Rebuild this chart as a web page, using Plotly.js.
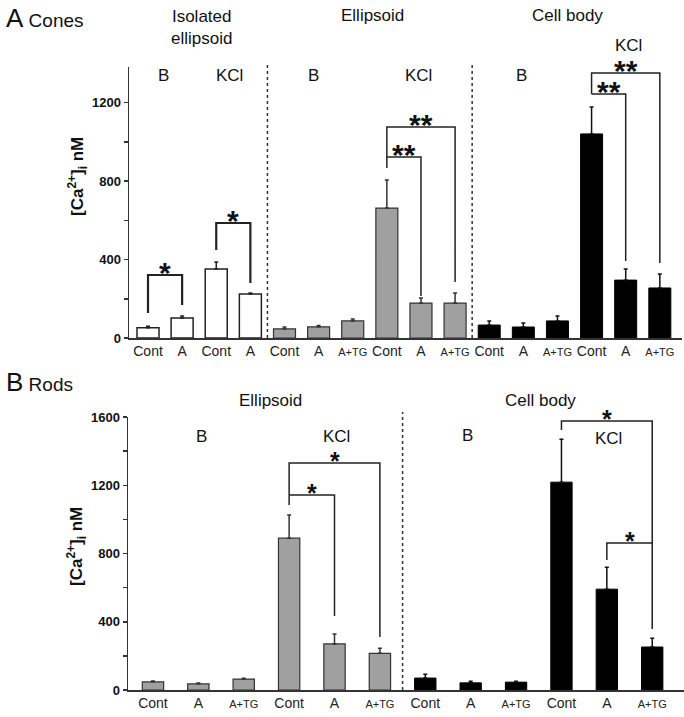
<!DOCTYPE html>
<html>
<head>
<meta charset="utf-8">
<script src="https://cdn.plot.ly/plotly-3.0.1.min.js"></script>
<style>html,body{margin:0;padding:0;background:#fff;}#chart{width:684px;height:717px;}</style>
</head>
<body>
<div id="chart"></div>
<script>
// ---------------- DATA ----------------
// Panel A: Cones
const isoCats      = ['Cont', 'A', 'Cont', 'A'];
const isoVals      = [52, 102, 352, 224];
const isoErr       = [8, 10, 35, 5];

const coneEllCats  = ['Cont', 'A', 'A+TG', 'Cont', 'A', 'A+TG'];
const coneEllVals  = [46, 57, 87, 662, 178, 178];
const coneEllErr   = [10, 7, 10, 143, 26, 51];

const coneCellCats = ['Cont', 'A', 'A+TG', 'Cont', 'A', 'A+TG'];
const coneCellVals = [66, 56, 87, 1040, 295, 255];
const coneCellErr  = [21, 20, 25, 137, 57, 71];

// Panel B: Rods
const rodEllCats   = ['Cont', 'A', 'A+TG', 'Cont', 'A', 'A+TG'];
const rodEllVals   = [48, 36, 64, 890, 270, 215];
const rodEllErr    = [5, 5, 5, 135, 58, 30];

const rodCellCats  = ['Cont', 'A', 'A+TG', 'Cont', 'A', 'A+TG'];
const rodCellVals  = [70, 42, 46, 1218, 591, 252];
const rodCellErr   = [22, 10, 6, 252, 128, 52];

// y tick labels
const yTicksA = [0, 400, 800, 1200];
const yTicksB = [0, 400, 800, 1200, 1600];

// ---------------- HELPERS ----------------
const W = 684, H = 717;
const FONT = 'Arial, "Liberation Sans", Helvetica, sans-serif';
const px = x => x / W;
const py = y => 1 - y / H;
const idx = (n, off) => Array.from({length: n}, (_, i) => i + off);
const zeros = n => Array(n).fill(0);
const tickLabel = c => c === 'A+TG' ? '<span style="font-size:11px">A+TG</span>' : c;

function barTrace(cats, vals, errs, off, fill, lineCol, lineW, width, xa, ya, errCol) {
  return {
    type: 'bar', x: idx(cats.length, off), y: vals, width: width,
    xaxis: xa, yaxis: ya, showlegend: false, hoverinfo: 'skip',
    marker: {color: fill, line: {color: lineCol, width: lineW}},
    error_y: {type: 'data', symmetric: false, array: errs, arrayminus: zeros(errs.length),
              color: errCol, thickness: 1.5, width: 2}
  };
}

const offA1 = 0, offA2 = isoCats.length, offA3 = offA2 + coneEllCats.length;
const offB1 = 0, offB2 = rodEllCats.length;

const traces = [
  barTrace(isoCats, isoVals, isoErr, offA1, '#ffffff', '#222', 1.5, 0.645, 'x', 'y', '#222'),
  barTrace(coneEllCats, coneEllVals, coneEllErr, offA2, '#a0a0a0', '#333', 1.2, 0.645, 'x', 'y', '#333'),
  barTrace(coneCellCats, coneCellVals, coneCellErr, offA3, '#000000', '#000', 1, 0.645, 'x', 'y', '#111'),
  barTrace(rodEllCats, rodEllVals, rodEllErr, offB1, '#a0a0a0', '#333', 1.2, 0.47, 'x2', 'y2', '#333'),
  barTrace(rodCellCats, rodCellVals, rodCellErr, offB2, '#000000', '#000', 1, 0.47, 'x2', 'y2', '#111')
];

const catsA = isoCats.concat(coneEllCats, coneCellCats);
const catsB = rodEllCats.concat(rodCellCats);

// ---------------- SIGNIFICANCE BRACKETS ----------------
const brackets = [
  ['x', 'y', [[0, 127], [0, 321], [1, 321], [1, 168]], 2.2],
  ['x', 'y', [[2, 448], [2, 586], [3, 586], [3, 280]], 2.2],
  ['x', 'y', [[7, 866], [7, 1075], [9, 1075], [9, 285]], 1.5],
  ['x', 'y', [[7, 922], [8, 922], [8, 214]], 1.5],
  ['x', 'y', [[13, 1243], [13, 1350], [15, 1350], [15, 382]], 1.5],
  ['x', 'y', [[13, 1243], [14, 1243], [14, 392]], 1.5],
  ['x2', 'y2', [[3, 1084], [3, 1330], [5, 1330], [5, 311]], 1.5],
  ['x2', 'y2', [[3, 1143], [4, 1143], [4, 434]], 1.5],
  ['x2', 'y2', [[9, 1524], [9, 1577], [11, 1577], [11, 358]], 1.5],
  ['x2', 'y2', [[10, 762], [10, 862], [11, 862]], 1.5]
];
const stars = [
  ['x', 'y', 0.5, 321, '*', 30],
  ['x', 'y', 2.5, 586, '*', 30],
  ['x', 'y', 8, 1075, '**', 30],
  ['x', 'y', 7.5, 922, '**', 30],
  ['x', 'y', 14, 1350, '**', 30],
  ['x', 'y', 13.5, 1243, '**', 30],
  ['x2', 'y2', 4, 1330, '*', 25],
  ['x2', 'y2', 3.5, 1143, '*', 25],
  ['x2', 'y2', 10, 1577, '*', 25],
  ['x2', 'y2', 10.5, 862, '*', 25]
];

const shapes = brackets.map(b => ({
  type: 'path', xref: b[0], yref: b[1],
  path: b[2].map((p, i) => (i ? 'L' : 'M') + p[0] + ',' + p[1]).join(' '),
  line: {color: '#222', width: b[3]}
}));
[[offA2 - 0.5, 'x', 338, 62], [offA3 - 0.5, 'x', 338, 62], [offB2 - 0.5, 'x2', 690, 412]].forEach(d => {
  shapes.push({type: 'line', xref: d[1], yref: 'paper', x0: d[0], x1: d[0], y0: py(d[2]), y1: py(d[3]),
               line: {color: '#333', width: 1.5, dash: '3px,3px'}});
});

const annotations = [];
stars.forEach(s => annotations.push({
  xref: s[0], yref: s[1], x: s[2], y: s[3], text: s[4], showarrow: false,
  xanchor: 'center', yanchor: 'middle', yshift: s[5] > 26 ? 3 : 2,
  font: {family: FONT, size: s[5], color: '#111', weight: 'bold'}
}));
function txt(text, x, y, size, opts) {
  annotations.push(Object.assign({
    xref: 'paper', yref: 'paper', x: px(x), y: py(y), text: text, showarrow: false,
    xanchor: 'center', yanchor: 'middle', font: {family: FONT, size: size, color: '#111'}
  }, opts || {}));
}
// Panel A labels
txt('<span style="font-size:26px">A</span> Cones', 4, 18, 19, {xanchor: 'left'});
txt('Isolated<br>ellipsoid', 201, 27, 17);
txt('Ellipsoid', 372, 16, 17);
txt('Cell body', 567, 16, 17);
txt('KCl', 628, 45, 17);
txt('B', 163, 75, 17); txt('KCl', 229, 75, 17);
txt('B', 313, 75, 17); txt('KCl', 418, 75, 17);
txt('B', 521, 75, 17);
// Panel B labels
txt('<span style="font-size:26px">B</span> Rods', 4, 382, 19, {xanchor: 'left'});
txt('Ellipsoid', 270, 400, 17);
txt('Cell body', 540, 400, 17);
txt('B', 201, 436, 17); txt('KCl', 336, 436, 17);
txt('B', 467, 435, 17); txt('KCl', 608, 438, 17);
// y-axis titles
const yTitle = '[Ca<sup>2+</sup>]<sub>i</sub> nM';
txt(yTitle, 77, 177, 17, {textangle: -90, font: {family: FONT, size: 17, color: '#111', weight: 'bold'}});
txt(yTitle, 76, 547, 17, {textangle: -90, font: {family: FONT, size: 17, color: '#111', weight: 'bold'}});

function xAxis(domain, range, cats, anchor) {
  return {domain: domain, range: range, anchor: anchor, tickvals: idx(cats.length, 0),
          ticktext: cats.map(tickLabel), ticks: '', showline: true, linecolor: '#333', linewidth: 1.5,
          showgrid: false, zeroline: false, fixedrange: true,
          tickfont: {family: FONT, size: 14, color: '#222'}};
}
function yAxis(domain, range, ticks, anchor) {
  return {domain: domain, range: range, anchor: anchor, tickvals: ticks, ticktext: ticks.map(String),
          ticks: 'outside', ticklen: 4, tickwidth: 1.5, tickcolor: '#333',
          minor: {dtick: 200, tick0: 0, ticks: 'outside', ticklen: 4, tickwidth: 1.5, tickcolor: '#333', showgrid: false},
          showline: true, linecolor: '#333', linewidth: 1.5, showgrid: false, zeroline: false,
          fixedrange: true, tickfont: {family: FONT, size: 13, color: '#111', weight: 'bold'}};
}

const layout = {
  width: W, height: H, margin: {l: 0, r: 0, t: 0, b: 0},
  paper_bgcolor: '#fff', plot_bgcolor: 'rgba(0,0,0,0)', showlegend: false,
  xaxis: xAxis([px(129), px(682)], [-0.557, 15.65], catsA, 'y'),
  yaxis: yAxis([py(338), py(67.2)], [0, 1380], yTicksA, 'x'),
  xaxis2: xAxis([px(128), 1], [-0.55, 11.70], catsB, 'y2'),
  yaxis2: yAxis([py(690), py(417)], [0, 1600], yTicksB, 'x2'),
  shapes: shapes, annotations: annotations
};

Plotly.newPlot('chart', traces, layout, {displayModeBar: false, staticPlot: true});
</script>
</body>
</html>
